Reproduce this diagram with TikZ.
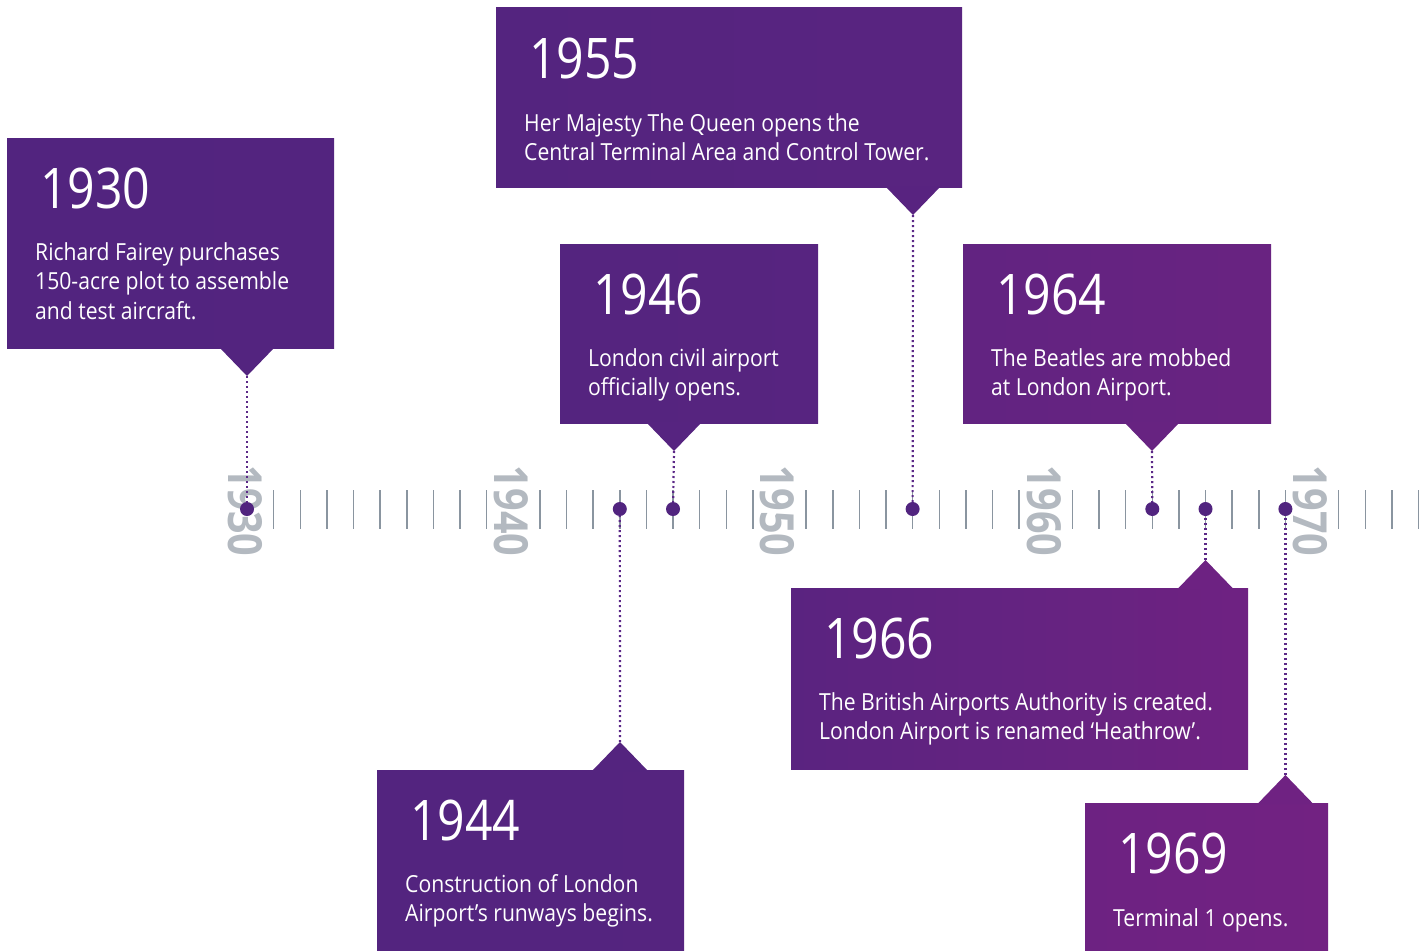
\documentclass[tikz,border=0pt]{standalone}
\usepackage{fontspec}
\setmainfont{Open Sans}[FakeStretch=0.9]
\newfontfamily\yearfont{Open Sans}[FakeStretch=0.86]
\newfontfamily\decadefont{Open Sans}[FakeStretch=0.84]
\usepackage{xcolor}
\usepackage{tikz}
\definecolor{hlpurpleA}{HTML}{51247F}
\definecolor{hlpurpleB}{HTML}{722282}
\definecolor{tickgray}{HTML}{8A95A0}
\definecolor{decadegray}{HTML}{B3B9C0}
\definecolor{leaderpurple}{HTML}{5B2887}
\tikzset{
  evbox/.style={anchor=north west, inner sep=0pt, outer sep=0pt},
  yearlbl/.style={anchor=base west, inner sep=0pt, text=white, font=\yearfont\fontsize{56}{60}\selectfont},
  desclbl/.style={anchor=base west, inner sep=0pt, text=white, align=left, font=\fontsize{23.5}{29.5}\selectfont},
  decade/.style={rotate=-90, inner sep=0pt, text=decadegray, font=\decadefont\bfseries\fontsize{47}{47}\selectfont},
  tick/.style={tickgray, line width=1.6pt},
  leader/.style={leaderpurple, line width=2.2pt, dash pattern=on 2pt off 3pt},
  yeardot/.style={circle, fill=hlpurpleA, inner sep=0pt, minimum size=14pt}
}
\begin{document}
\begin{tikzpicture}[x=1pt, y=-1pt]
  \useasboundingbox (0,0) rectangle (1420,950);
  \draw[tick] (273.6,490) -- (273.6,529);
  \draw[tick] (300.3,490) -- (300.3,529);
  \draw[tick] (326.9,490) -- (326.9,529);
  \draw[tick] (353.5,490) -- (353.5,529);
  \draw[tick] (380.1,490) -- (380.1,529);
  \draw[tick] (406.8,490) -- (406.8,529);
  \draw[tick] (433.4,490) -- (433.4,529);
  \draw[tick] (460.0,490) -- (460.0,529);
  \draw[tick] (486.6,490) -- (486.6,529);
  \draw[tick] (539.9,490) -- (539.9,529);
  \draw[tick] (566.5,490) -- (566.5,529);
  \draw[tick] (593.1,490) -- (593.1,529);
  \draw[tick] (619.8,490) -- (619.8,529);
  \draw[tick] (646.4,490) -- (646.4,529);
  \draw[tick] (673.0,490) -- (673.0,529);
  \draw[tick] (699.6,490) -- (699.6,529);
  \draw[tick] (726.3,490) -- (726.3,529);
  \draw[tick] (752.9,490) -- (752.9,529);
  \draw[tick] (806.1,490) -- (806.1,529);
  \draw[tick] (832.8,490) -- (832.8,529);
  \draw[tick] (859.4,490) -- (859.4,529);
  \draw[tick] (886.0,490) -- (886.0,529);
  \draw[tick] (912.6,490) -- (912.6,529);
  \draw[tick] (939.3,490) -- (939.3,529);
  \draw[tick] (965.9,490) -- (965.9,529);
  \draw[tick] (992.5,490) -- (992.5,529);
  \draw[tick] (1019.1,490) -- (1019.1,529);
  \draw[tick] (1072.4,490) -- (1072.4,529);
  \draw[tick] (1099.0,490) -- (1099.0,529);
  \draw[tick] (1125.6,490) -- (1125.6,529);
  \draw[tick] (1152.3,490) -- (1152.3,529);
  \draw[tick] (1178.9,490) -- (1178.9,529);
  \draw[tick] (1205.5,490) -- (1205.5,529);
  \draw[tick] (1232.1,490) -- (1232.1,529);
  \draw[tick] (1258.8,490) -- (1258.8,529);
  \draw[tick] (1285.4,490) -- (1285.4,529);
  \draw[tick] (1338.6,490) -- (1338.6,529);
  \draw[tick] (1365.3,490) -- (1365.3,529);
  \draw[tick] (1391.9,490) -- (1391.9,529);
  \draw[tick] (1418.5,490) -- (1418.5,529);
  \node[decade] (dec1930) at (245,511) {1930};
  \node[decade] (dec1940) at (511.3,511) {1940};
  \node[decade] (dec1950) at (777.5,511) {1950};
  \node[decade] (dec1960) at (1043.8,511) {1960};
  \node[decade] (dec1970) at (1310,511) {1970};
  \node[evbox, minimum width=327, minimum height=210, left color=hlpurpleB!2!hlpurpleA, right color=hlpurpleB!6!hlpurpleA] (b1930) at (7,138) {};
  \fill[hlpurpleB!5!hlpurpleA] (219,347) -- (247,376) -- (275,347) -- cycle;
  \coordinate (p1930) at (247,376);
  \node[yearlbl] (y1930) at (40,208) {1930};
  \node[desclbl] (t1930) at (35,319) {Richard Fairey purchases\\150-acre plot to assemble\\and test aircraft.};
  \node[evbox, minimum width=466, minimum height=179, left color=hlpurpleB!8!hlpurpleA, right color=hlpurpleB!25!hlpurpleA] (b1955) at (496,8) {};
  \fill[hlpurpleB!22!hlpurpleA] (885,186) -- (913,215) -- (941,186) -- cycle;
  \coordinate (p1955) at (913,215);
  \node[yearlbl] (y1955) at (529,78) {1955};
  \node[desclbl] (t1955) at (524,160.5) {Her Majesty The Queen opens the\\Central Terminal Area and Control Tower.};
  \node[evbox, minimum width=258, minimum height=179, left color=hlpurpleB!10!hlpurpleA, right color=hlpurpleB!18!hlpurpleA] (b1946) at (560,244) {};
  \fill[hlpurpleB!14!hlpurpleA] (646,422) -- (674,451) -- (702,422) -- cycle;
  \coordinate (p1946) at (674,451);
  \node[yearlbl] (y1946) at (593,314) {1946};
  \node[desclbl] (t1946) at (588,395.5) {London civil airport\\officially opens.};
  \node[evbox, minimum width=308, minimum height=179, left color=hlpurpleB!50!hlpurpleA, right color=hlpurpleB!72!hlpurpleA] (b1964) at (963,244) {};
  \fill[hlpurpleB!65!hlpurpleA] (1124,422) -- (1152,451) -- (1180,422) -- cycle;
  \coordinate (p1964) at (1152,451);
  \node[yearlbl] (y1964) at (996,314) {1964};
  \node[desclbl] (t1964) at (991,395.5) {The Beatles are mobbed\\at London Airport.};
  \node[evbox, minimum width=307, minimum height=181, left color=hlpurpleB!5!hlpurpleA, right color=hlpurpleB!12!hlpurpleA] (b1944) at (377,770) {};
  \fill[hlpurpleB!10!hlpurpleA] (592,771) -- (620,742) -- (648,771) -- cycle;
  \coordinate (p1944) at (620,742);
  \node[yearlbl] (y1944) at (410,840) {1944};
  \node[desclbl] (t1944) at (405,921.5) {Construction of London\\Airport’s runways begins.};
  \node[evbox, minimum width=457, minimum height=181, left color=hlpurpleB!27!hlpurpleA, right color=hlpurpleB!90!hlpurpleA] (b1966) at (791,588) {};
  \fill[hlpurpleB!85!hlpurpleA] (1177.5,589) -- (1205.5,560) -- (1233.5,589) -- cycle;
  \coordinate (p1966) at (1205.5,560);
  \node[yearlbl] (y1966) at (824,658) {1966};
  \node[desclbl] (t1966) at (819,739.5) {The British Airports Authority is created.\\London Airport is renamed ‘Heathrow’.};
  \node[evbox, minimum width=243, minimum height=148, left color=hlpurpleB!85!hlpurpleA, right color=hlpurpleB!100!hlpurpleA] (b1969) at (1085,803) {};
  \fill[hlpurpleB!92!hlpurpleA] (1257.4,804) -- (1285.4,775) -- (1313.4,804) -- cycle;
  \coordinate (p1969) at (1285.4,775);
  \node[yearlbl] (y1969) at (1118,873) {1969};
  \node[desclbl] (t1969) at (1113,926) {Terminal 1 opens.};
  \node[yeardot] (d1930) at (247,509) {};
  \node[yeardot] (d1944) at (619.8,509) {};
  \node[yeardot] (d1946) at (673,509) {};
  \node[yeardot] (d1955) at (912.6,509) {};
  \node[yeardot] (d1964) at (1152.3,509) {};
  \node[yeardot] (d1966) at (1205.5,509) {};
  \node[yeardot] (d1969) at (1285.4,509) {};
  \draw[leader] (p1930) -- (d1930);
  \draw[leader] (p1944) -- (d1944);
  \draw[leader] (p1946) -- (d1946);
  \draw[leader] (p1955) -- (d1955);
  \draw[leader] (p1964) -- (d1964);
  \draw[leader] (p1966) -- (d1966);
  \draw[leader] (p1969) -- (d1969);
\end{tikzpicture}
\end{document}
